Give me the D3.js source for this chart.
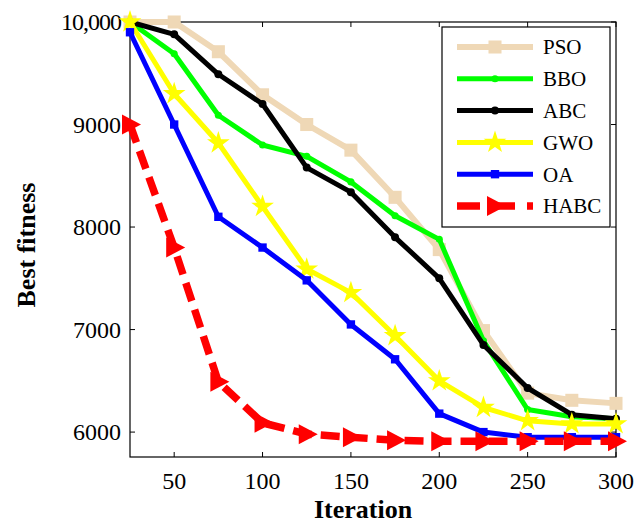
<!DOCTYPE html>
<html>
<head>
<meta charset="utf-8">
<script src="https://cdn.jsdelivr.net/npm/d3@7"></script>
<style>
  body { margin: 0; background: #fff; }
  svg text { font-family: "Liberation Serif", "Times New Roman", serif; }
</style>
</head>
<body>
<svg id="chart"></svg>
<script>
// iterations on the x axis
const iterations = [25, 50, 75, 100, 125, 150, 175, 200, 225, 250, 275, 300];

// best fitness per algorithm
const psoValues  = [10000, 10000, 9710, 9290, 9000, 8750, 8290, 7780, 6990, 6380, 6310, 6280];
const bboValues  = [10000, 9690, 9090, 8800, 8690, 8440, 8110, 7880, 6890, 6220, 6150, 6130];
const abcValues  = [10000, 9880, 9490, 9200, 8580, 8340, 7900, 7500, 6850, 6430, 6170, 6130];
const gwoValues  = [10000, 9300, 8820, 8200, 7590, 7360, 6940, 6500, 6240, 6110, 6080, 6080];
const oaValues   = [9900, 9000, 8100, 7800, 7480, 7050, 6710, 6180, 6000, 5950, 5950, 5950];
const habcValues = [9000, 7800, 6490, 6090, 5980, 5950, 5920, 5910, 5910, 5910, 5910, 5910];

const seriesNames = ["PSO", "BBO", "ABC", "GWO", "OA", "HABC"];

// axis ticks
const xTicks = [50, 100, 150, 200, 250, 300];
const yTicks = [6000, 7000, 8000, 9000, 10000];
const yTickLabels = ["6000", "7000", "8000", "9000", "10,000"];

(function () {
    const W = 635;
    const H = 525;
    const plot = { left: 130, right: 616, top: 22, bottom: 457 };

    const svg = d3.select("#chart")
        .attr("width", W)
        .attr("height", H);

    const x = d3.scaleLinear()
        .domain([25, 300])
        .range([plot.left, plot.right]);

    const y = d3.scaleLinear()
        .domain([5757, 10000])
        .range([plot.bottom, plot.top]);

    const triangle = "M-8,-10L11,0L-8,10Z";

    const styles = {
        PSO:  { values: psoValues,  color: "#efd8b6", width: 6, dash: null,   marker: d3.symbol(d3.symbolSquare, 170)() },
        BBO:  { values: bboValues,  color: "#00ff00", width: 5, dash: null,   marker: d3.symbol(d3.symbolCircle, 40)() },
        ABC:  { values: abcValues,  color: "#000000", width: 5, dash: null,   marker: d3.symbol(d3.symbolCircle, 50)() },
        GWO:  { values: gwoValues,  color: "#ffff00", width: 5, dash: null,   marker: d3.symbol(d3.symbolStar, 160)() },
        OA:   { values: oaValues,   color: "#0000ff", width: 5, dash: null,   marker: d3.symbol(d3.symbolSquare, 70)() },
        HABC: { values: habcValues, color: "#ff0000", width: 7.5, dash: "19,9", marker: triangle }
    };

    const line = d3.line()
        .x(d => x(d.it))
        .y(d => y(d.v));

    // box border
    svg.append("rect")
        .attr("x", plot.left)
        .attr("y", plot.top)
        .attr("width", plot.right - plot.left)
        .attr("height", plot.bottom - plot.top)
        .attr("fill", "none")
        .attr("stroke", "#000")
        .attr("stroke-width", 1.2);

    // inward ticks on all four sides
    const tickLen = 5;
    const ticks = svg.append("g").attr("stroke", "#000").attr("stroke-width", 1);
    xTicks.forEach(t => {
        ticks.append("line").attr("x1", x(t)).attr("x2", x(t))
            .attr("y1", plot.bottom).attr("y2", plot.bottom - tickLen);
        ticks.append("line").attr("x1", x(t)).attr("x2", x(t))
            .attr("y1", plot.top).attr("y2", plot.top + tickLen);
    });
    yTicks.forEach(t => {
        ticks.append("line").attr("x1", plot.left).attr("x2", plot.left + tickLen)
            .attr("y1", y(t)).attr("y2", y(t));
        ticks.append("line").attr("x1", plot.right).attr("x2", plot.right - tickLen)
            .attr("y1", y(t)).attr("y2", y(t));
    });

    // tick labels
    svg.append("g").selectAll("text")
        .data(xTicks)
        .enter().append("text")
        .attr("x", d => x(d))
        .attr("y", 489)
        .attr("text-anchor", "middle")
        .attr("font-size", 24)
        .text(d => d);

    svg.append("g").selectAll("text")
        .data(yTicks)
        .enter().append("text")
        .attr("x", 121)
        .attr("y", d => y(d))
        .attr("dy", "0.34em")
        .attr("text-anchor", "end")
        .attr("font-size", 24)
        .attr("letter-spacing", d => d === 10000 ? -1 : 0)
        .text((d, i) => yTickLabels[i]);

    // axis titles
    svg.append("text")
        .attr("x", 363)
        .attr("y", 518)
        .attr("text-anchor", "middle")
        .attr("font-size", 26)
        .attr("font-weight", "bold")
        .text("Iteration");

    svg.append("text")
        .attr("transform", "translate(35,245) rotate(-90)")
        .attr("text-anchor", "middle")
        .attr("font-size", 26)
        .attr("font-weight", "bold")
        .text("Best fitness");

    // series lines and markers
    seriesNames.forEach(name => {
        const s = styles[name];
        const pts = iterations.map((it, i) => ({ it: it, v: s.values[i] }));
        const g = svg.append("g");

        g.append("path")
            .datum(pts)
            .attr("d", line)
            .attr("fill", "none")
            .attr("stroke", s.color)
            .attr("stroke-width", s.width)
            .attr("stroke-linejoin", "round")
            .attr("stroke-dasharray", s.dash);

        g.selectAll("path.m")
            .data(pts)
            .enter().append("path")
            .attr("class", "m")
            .attr("d", s.marker)
            .attr("transform", d => `translate(${x(d.it)},${y(d.v)})`)
            .attr("fill", s.color);
    });

    // legend
    const lg = svg.append("g");
    lg.append("rect")
        .attr("x", 442)
        .attr("y", 27)
        .attr("width", 168)
        .attr("height", 200)
        .attr("fill", "#fff")
        .attr("stroke", "#000")
        .attr("stroke-width", 1.2);

    seriesNames.forEach((name, i) => {
        const s = styles[name];
        const ly = 47 + i * 31.8;
        lg.append("line")
            .attr("x1", 457).attr("x2", 533)
            .attr("y1", ly).attr("y2", ly)
            .attr("stroke", s.color)
            .attr("stroke-width", s.width)
            .attr("stroke-dasharray", name === "HABC" ? "23,12" : null);
        lg.append("path")
            .attr("d", s.marker)
            .attr("transform", `translate(495,${ly})`)
            .attr("fill", s.color);
        lg.append("text")
            .attr("x", 543)
            .attr("y", ly)
            .attr("dy", "0.35em")
            .attr("font-size", 21)
            .text(name);
    });
})();
</script>
</body>
</html>
